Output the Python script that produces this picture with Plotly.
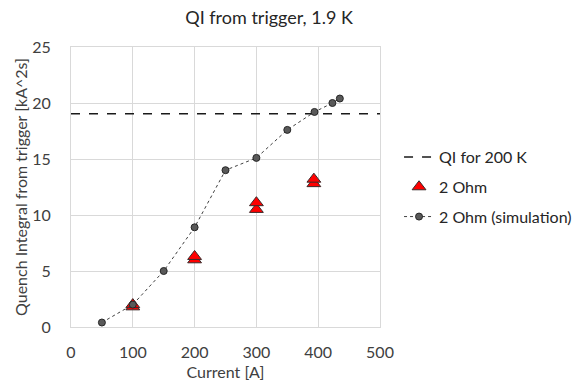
import plotly.graph_objects as go

sim_current = [50, 100, 150, 200, 250, 300, 350, 394, 423, 435]
sim_qi = [0.4, 2.0, 5.0, 8.9, 14.0, 15.1, 17.6, 19.2, 20.0, 20.4]

meas_current = [100, 100, 200, 200, 300, 300, 393, 393]
meas_qi = [1.8, 2.0, 6.0, 6.3, 10.5, 11.1, 12.8, 13.2]

qi_200k = 19.05
x_range = [0, 500]

FONT = "Lato"
fig = go.Figure()

fig.add_trace(go.Scatter(
    x=x_range, y=[qi_200k, qi_200k], mode="lines",
    line=dict(color="#1a1a1a", width=1.5, dash="dash"),
    name="QI for 200 K", legendgroup="a"))
fig.add_trace(go.Scatter(
    x=meas_current, y=meas_qi, mode="markers",
    marker=dict(symbol="triangle-up", size=12, color="#ff0000",
                line=dict(color="#3a2a2a", width=1)),
    name="2 Ohm", legendgroup="b"))
fig.add_trace(go.Scatter(
    x=sim_current, y=sim_qi, mode="lines+markers",
    line=dict(color="#404040", width=1, dash="dot"),
    marker=dict(symbol="circle", size=7, color="#595959",
                line=dict(color="#262626", width=1)),
    name="2 Ohm (simulation)", legendgroup="c"))

fig.update_layout(
    width=580, height=388,
    margin=dict(l=71, r=200, t=47, b=61, autoexpand=False),
    paper_bgcolor="white", plot_bgcolor="white",
    font=dict(family=FONT, size=15, color="#404040"),
    title=dict(text="QI from trigger, 1.9 K", x=0.464, xanchor="center",
               xref="container", y=0.955, yanchor="middle",
               font=dict(family=FONT, size=18, color="#262626")),
    showlegend=True,
    legend=dict(x=0.688, y=0.639, xref="container", yref="container",
                xanchor="left", yanchor="top",
                tracegroupgap=6, font=dict(family=FONT, size=16, color="#262626"),
                bgcolor="rgba(0,0,0,0)"),
    xaxis=dict(range=x_range, dtick=100, showgrid=True, gridcolor="#d9d9d9",
               gridwidth=1, zeroline=False, showline=True, linecolor="#d9d9d9",
               mirror=True, ticks="", ticklabelstandoff=11,
               tickfont=dict(size=16, color="#404040"),
               title=dict(text="Current [A]", font=dict(size=16, color="#404040"),
                          standoff=6)),
    yaxis=dict(range=[0, 25], dtick=5, showgrid=True, gridcolor="#d9d9d9",
               gridwidth=1, zeroline=False, showline=True, linecolor="#d9d9d9",
               mirror=True, ticks="", ticklabelstandoff=16,
               tickfont=dict(size=16, color="#404040"),
               title=dict(text="Quench Integral from trigger [kA^2s]",
                          font=dict(size=16, color="#404040"), standoff=0)),
)

fig.write_html("out.html")
